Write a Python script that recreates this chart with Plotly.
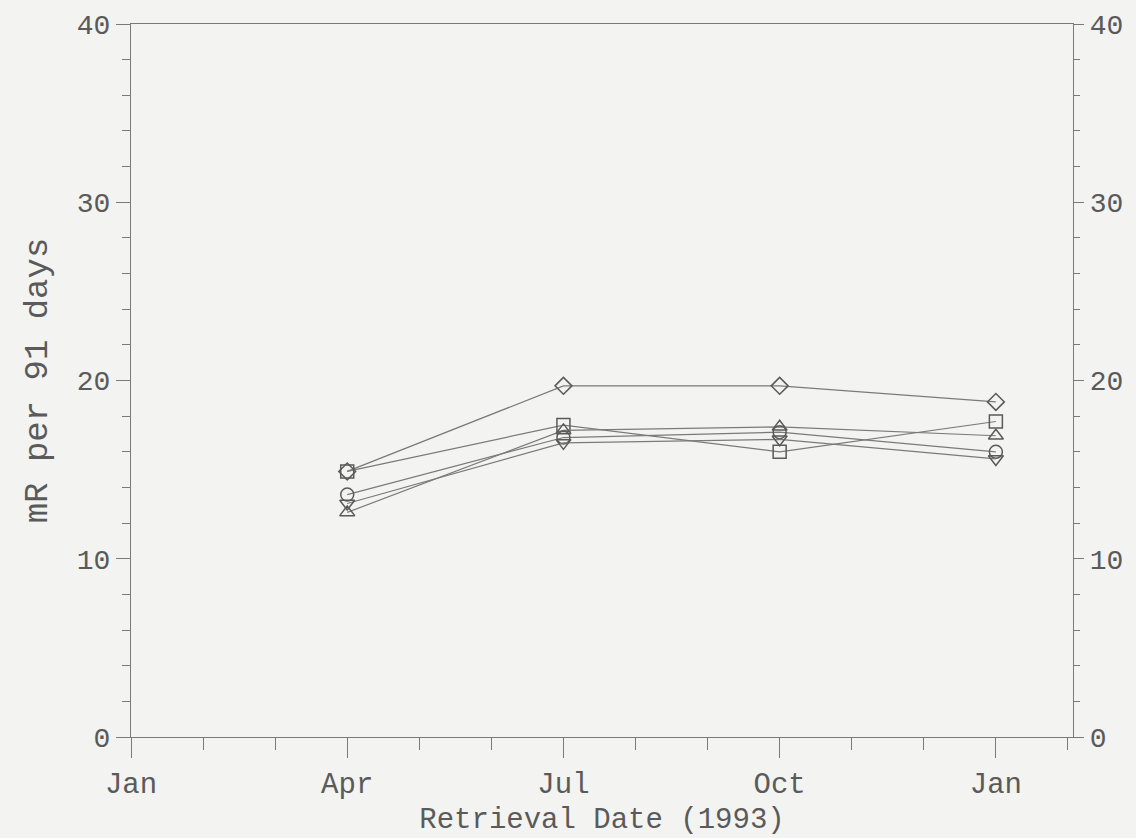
import plotly.graph_objects as go

months = [3, 6, 9, 12]  # months after Jan 1993: Apr, Jul, Oct, Jan
tick_vals = [0, 3, 6, 9, 12]
tick_text = ["Jan", "Apr", "Jul", "Oct", "Jan"]

series_names = ["Diamond", "Square", "Triangle", "Circle", "InvTriangle"]
diamond = [14.9, 19.7, 19.7, 18.8]
square = [14.9, 17.5, 16.0, 17.7]
triangle = [12.6, 17.2, 17.4, 16.9]
circle = [13.6, 16.8, 17.1, 16.0]
inv_triangle = [13.1, 16.5, 16.7, 15.6]

symbols = ["diamond-open", "square-open", "triangle-up-open", "circle-open", "triangle-down-open"]
values = [diamond, square, triangle, circle, inv_triangle]

bg = "#f3f3f1"
ink = "#5a5a5a"
line_c = "#7a7a7a"
font_fam = "Liberation Mono, Courier New, monospace"

fig = go.Figure()
for name, vals, sym in zip(series_names, values, symbols):
    fig.add_trace(go.Scatter(
        x=months, y=vals, name=name, mode="lines+markers",
        line=dict(color=line_c, width=1.2),
        marker=dict(symbol=sym, size=13, color=ink, line=dict(width=1.5, color=ink)),
        showlegend=False,
    ))

# invisible trace to anchor the right axis
fig.add_trace(go.Scatter(x=[0], y=[0], yaxis="y2", mode="markers",
                         marker=dict(opacity=0), showlegend=False, hoverinfo="skip"))

fig.update_layout(
    width=1136, height=838,
    paper_bgcolor=bg, plot_bgcolor=bg,
    margin=dict(l=131, r=63, t=24, b=101),
    font=dict(family=font_fam, color=ink, size=28),
    xaxis=dict(
        range=[0, 13.07], tickvals=tick_vals, ticktext=tick_text, automargin=False,
        showgrid=False, zeroline=False, showline=True, linecolor=line_c, linewidth=1.2,
        mirror=True, ticks="outside", ticklen=20, tickcolor=line_c, tickwidth=1.2,
        minor=dict(dtick=1, tick0=0, ticks="outside", ticklen=12, tickcolor=line_c, tickwidth=1.2, showgrid=False),
        tickfont=dict(size=29, family=font_fam, color=ink),
        title=dict(text="Retrieval Date (1993)", font=dict(size=29, family=font_fam, color=ink), standoff=6),
    ),
    yaxis=dict(
        range=[0, 40], dtick=10, tick0=0, automargin=False,
        showgrid=False, zeroline=False, showline=True, linecolor=line_c, linewidth=1.2,
        ticks="outside", ticklen=14, tickcolor=line_c, tickwidth=1.2,
        minor=dict(dtick=2, ticks="outside", ticklen=8, tickcolor=line_c, tickwidth=1.2, showgrid=False),
        tickfont=dict(size=28, family=font_fam, color=ink),
        title=dict(text="mR per 91 days", font=dict(size=34, family=font_fam, color=ink), standoff=18),
    ),
    yaxis2=dict(
        range=[0, 40], dtick=10, tick0=0, overlaying="y", side="right", automargin=False,
        showgrid=False, zeroline=False, showline=True, linecolor=line_c, linewidth=1.2,
        ticks="outside", ticklen=10, tickcolor=line_c, tickwidth=1.2,
        minor=dict(dtick=2, ticks="outside", ticklen=6, tickcolor=line_c, tickwidth=1.2, showgrid=False),
        tickfont=dict(size=28, family=font_fam, color=ink),
    ),
)

fig.write_html(
    "out.html",
    config={"displayModeBar": False},
    post_script="document.body.style.margin='0';document.body.style.background='" + bg + "';",
)
